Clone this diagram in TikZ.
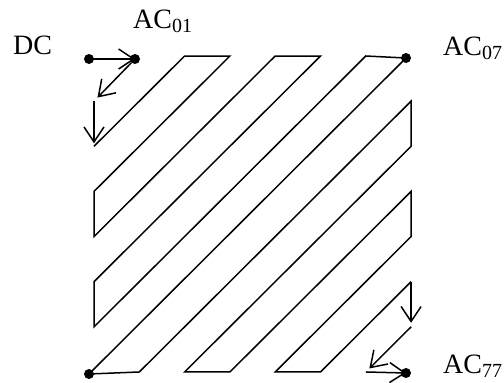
\documentclass[tikz,border=0pt]{standalone}
\usepackage{fontspec}
\setmainfont{Liberation Serif}
\usetikzlibrary{arrows.meta}
\newcommand{\subdig}[1]{\raisebox{-4.5pt}{\fontsize{20}{20}\selectfont #1}}
\begin{document}
\begin{tikzpicture}[x=1pt,y=-1pt,
  zz/.style={line width=1.5pt, line join=miter},
  scanarrow/.style={zz, -{Straight Barb[length=15pt,width=20pt,line width=1.5pt]}},
  dotnode/.style={circle, fill=black, inner sep=0pt, minimum size=10pt},
  lab/.style={anchor=base west, inner sep=0pt, font=\fontsize{28}{30}\selectfont}]
\useasboundingbox (0,0) rectangle (504,383);
% grid corners of the scan path
\foreach \i in {0,...,7}{
  \foreach \j in {0,...,7}{
    \coordinate (g\i\j) at ({94+45.3*\j},{56+45.14*\i});
  }
}
% corner dots
\coordinate (d00) at (89,59);
\coordinate (d01) at (135,59);
\coordinate (d07) at (406,58);
\coordinate (d70) at (89,374);
\coordinate (d77) at (406,373);
% start arrows
\draw[scanarrow] (d00) -- (d01);
\draw[scanarrow, shorten <=5pt, shorten >=5pt] (d01) -- (g10);
\draw[scanarrow, shorten >=3pt] (g10) -- (g20);
% zigzag path
\draw[zz] (g20) -- (g02) -- (g03) -- (g30) -- (g40) -- (g04) -- (g05) -- (g50)
  -- (g60) -- (g06) -- (d07) -- (d70) -- (g71) -- (g17) -- (g27) -- (g72)
  -- (g73) -- (g37) -- (g47) -- (g74) -- (g75) -- (g57);
% end arrows
\draw[scanarrow, shorten >=4pt] (g57) -- (g67);
\draw[scanarrow, shorten >=5pt] (g67) -- (g76);
\draw[scanarrow] (g76) -- (d77);
% dots on top
\node[dotnode] (n00) at (d00) {};
\node[dotnode] (n01) at (d01) {};
\node[dotnode] (n07) at (d07) {};
\node[dotnode] (n70) at (d70) {};
\node[dotnode] (n77) at (d77) {};
% labels
\node[lab] (dc) at (13,54) {DC};
\node[lab] (ac01) at (133,28) {AC\subdig{01}};
\node[lab] (ac07) at (443,55) {AC\subdig{07}};
\node[lab] (ac77) at (443,373) {AC\subdig{77}};
\end{tikzpicture}
\end{document}
